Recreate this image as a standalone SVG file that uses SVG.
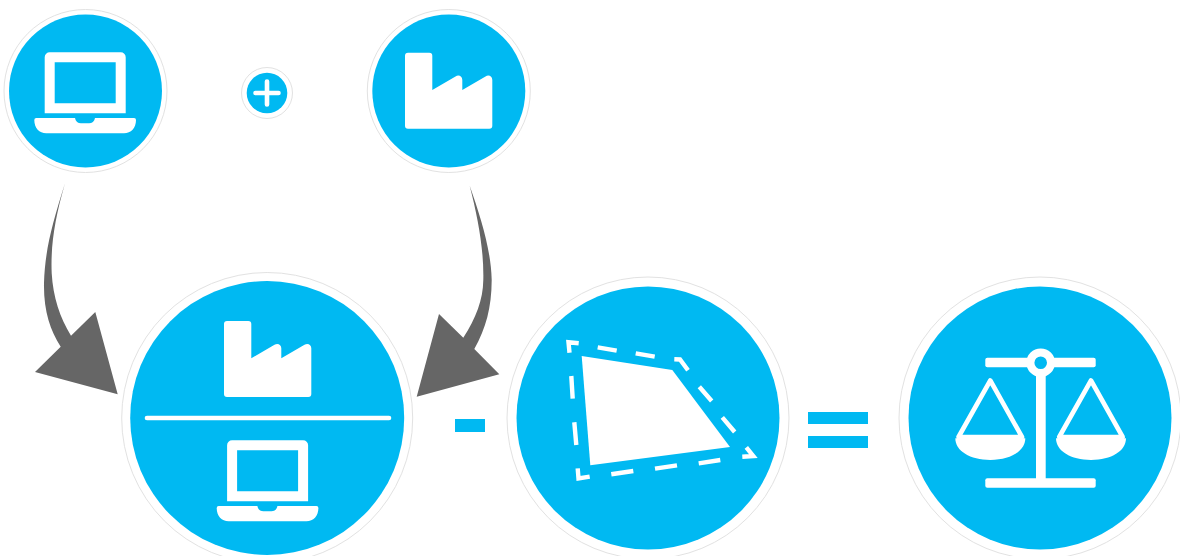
<svg xmlns="http://www.w3.org/2000/svg" width="1180" height="556" viewBox="0 0 1180 556">
<style>
.ring{fill:#fff;stroke:#e2e2e2;stroke-width:1}
.blue{fill:#00b9f2}
.w{fill:#fff}
.d{fill:none;stroke:#fff;stroke-width:4.4;stroke-miterlimit:10}
.arrow{fill:#666}
</style>
<defs>
<path id="laptop" fill="#fff" fill-rule="evenodd" d="M49.7 52.3H120.7A5 5 0 0 1 125.7 57.3V113.3H44.7V57.3A5 5 0 0 1 49.7 52.3ZM54.7 62.3V103.3H115.7V62.3ZM36.3 118H75C75.5 121.5 78 123.3 81 123.3H89C92 123.3 94.5 121.5 95 118H134A2 2 0 0 1 136 120C136 128 131 133.3 124 133.3H46.3C39.3 133.3 34.3 128 34.3 120A2 2 0 0 1 36.3 118Z"/>
<path id="factory" fill="#fff" d="M408 52.7H429.3A3 3 0 0 1 432.3 55.7V90L455.5 76.5C458.5 74.5 462.3 76 462.3 80V90L485.5 76.5C488.5 74.5 492.3 76 492.3 80V125.7A3 3 0 0 1 489.3 128.7H408A3 3 0 0 1 405 125.7V55.7A3 3 0 0 1 408 52.7Z"/>
<g id="pan">
<path fill="none" stroke="#fff" stroke-width="4.6" stroke-linejoin="round" d="M990.3 380.5 1022 437H958.5Z"/>
<path fill="#fff" d="M955.3 438.3C955.3 451 970 460 990.3 460S1025.3 451 1025.3 438.3Z"/>
</g>
</defs>
<g id="connectors">
<path class="arrow" d="M65 183.3C52 225 45 250 44 283C43.500 310 50 330 60.700 346.700L35 372 117.700 394.300 95.300 312 71 335.700C60 318 53 297 51.700 273.300C50.500 245 55 218 65 183.300Z"/>
<path class="arrow" d="M469.700 185.700C481 218 491 250 491.700 280C491.500 308 486 328 474.300 349L499.300 374.300 416.700 396.700 439 314 463.300 337.700C476 318 483 300 483.300 280C484 250 478 218 469.700 185.700Z"/>
</g>
<g id="node-laptop">
<circle class="ring" cx="85.500" cy="91" r="81.500"/><circle class="blue" cx="85.500" cy="91" r="76.500"/>
<use href="#laptop"/>
</g>
<g id="node-plus">
<circle class="ring" cx="267" cy="93" r="25.500"/><circle class="blue" cx="267" cy="93" r="20.300"/>
<path fill="none" stroke="#fff" stroke-width="4.600" stroke-linecap="round" d="M255.500 93H278.500M267 81.500V104.500"/>
</g>
<g id="node-factory">
<circle class="ring" cx="448.800" cy="91" r="81.500"/><circle class="blue" cx="448.800" cy="91" r="76.500"/>
<use href="#factory"/>
</g>
<g id="node-ratio">
<circle class="ring" cx="267.200" cy="418" r="145.500"/><circle class="blue" cx="267.200" cy="418" r="137"/>
<use href="#factory" transform="translate(-181 268.300)"/>
<rect class="w" x="144.700" y="415.700" width="246.600" height="4.600" rx="2.300"/>
<use href="#laptop" transform="translate(182.400 388)"/>
</g>
<g id="node-minus"><rect class="blue" x="455" y="419" width="30" height="13"/></g>
<g id="node-area">
<circle class="ring" cx="648" cy="418" r="141"/><circle class="blue" cx="648" cy="418" r="131.500"/>
<path class="w" d="M581.700 356 672.300 370 730 447 590.300 465.300Z"/>
<path class="d" d="M578.700 343.300 568.500 342.300 569.500 352.700M597.700 347.300 616.700 350.700M635.700 353.300 654.700 356.700M674.300 359.300 680 359.500 688 370.300M699.300 386.700 711.700 401M722.300 417.300 734.700 432M746.300 447.300 753.300 456 742.300 456.700M720.300 460 698.700 463.300M677 465.300 655 468.700M633.300 471 611.300 474.300M589.700 476.700 578.500 478.500 577.700 468.300M571.300 376 572.700 398.700M574.300 422.300 576.300 445"/>
</g>
<g id="node-equals"><rect class="blue" x="808" y="412" width="60" height="12"/><rect class="blue" x="808" y="436" width="60" height="12"/></g>
<g id="node-scale">
<circle class="ring" cx="1040" cy="418" r="141"/><circle class="blue" cx="1040" cy="418" r="131.500"/>
<rect class="w" x="985.300" y="357.700" width="110.400" height="9.600" rx="2"/>
<rect class="w" x="1036" y="365" width="9.700" height="115"/>
<rect class="w" x="985.300" y="478.300" width="110.400" height="9.400" rx="2"/>
<circle class="blue" cx="1040.700" cy="362.700" r="10.300" stroke="#fff" stroke-width="8"/>
<use href="#pan"/><use href="#pan" transform="translate(100.700 0)"/>
</g>
</svg>
